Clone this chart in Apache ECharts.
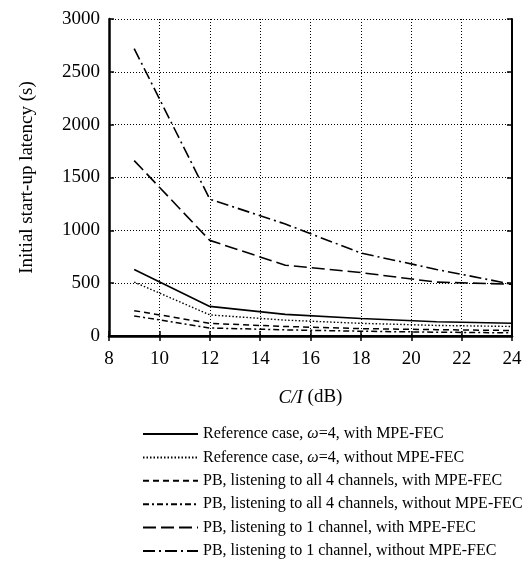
<!DOCTYPE html>
<html><head><meta charset="utf-8">
<script src="https://cdn.jsdelivr.net/npm/echarts@6/dist/echarts.min.js"></script>
<style>html,body{margin:0;padding:0;background:#fff}#c{width:531px;height:581px}</style>
</head><body><div id="c"></div>
<script>
const xValues = [9, 12, 15, 18, 21, 24];
const refWithFec = [630, 280, 205, 165, 135, 120];
const refWithoutFec = [510, 200, 150, 120, 100, 90];
const pb4WithFec = [240, 120, 90, 70, 60, 52];
const pb4WithoutFec = [190, 76, 58, 45, 36, 30];
const pb1WithFec = [1660, 905, 670, 600, 510, 490];
const pb1WithoutFec = [2720, 1295, 1060, 785, 630, 490];
const yTicks = [0, 500, 1000, 1500, 2000, 2500, 3000];
const seriesNames = [
  'Reference case, {i|ω}=4, with MPE-FEC',
  'Reference case, {i|ω}=4, without MPE-FEC',
  'PB, listening to all 4 channels, with MPE-FEC',
  'PB, listening to all 4 channels, without MPE-FEC',
  'PB, listening to 1 channel, with MPE-FEC',
  'PB, listening to 1 channel, without MPE-FEC'
];
const seriesData = [refWithFec, refWithoutFec, pb4WithFec, pb4WithoutFec, pb1WithFec, pb1WithoutFec];
const dashes = ['solid', [1.5, 2], [6, 4], [6, 3, 2, 3], [13, 5], [12, 4, 2, 4]];
const widths = [1.6, 1.4, 1.5, 1.5, 1.6, 1.6];
const font = 'Liberation Serif';
const chart = echarts.init(document.getElementById('c'));
chart.setOption({
  animation: false,
  grid: { left: 109, right: 19, top: 19, bottom: 245, show: false },
  legend: {
    orient: 'vertical', left: 137, top: 421, itemWidth: 55, itemHeight: 14, itemGap: 7.4,
    itemStyle: { color: 'transparent', borderWidth: 0 },
    textStyle: { fontFamily: font, fontSize: 16, color: '#000', rich: { i: { fontFamily: font, fontSize: 16, fontStyle: 'italic', color: '#000' } } },
    formatter: n => n
  },
  xAxis: [{
    type: 'value', min: 8, max: 24, interval: 2,
    name: '{i|C/I} (dB)', nameLocation: 'middle', nameGap: 52,
    nameTextStyle: { fontFamily: font, fontSize: 19, color: '#000', rich: { i: { fontFamily: font, fontSize: 19, fontStyle: 'italic', color: '#000' } } },
    axisLine: { lineStyle: { color: '#000', width: 2.5 } },
    axisTick: { inside: true, length: 5, lineStyle: { color: '#000', width: 1.5 } },
    axisLabel: { fontFamily: font, fontSize: 19, color: '#000', margin: 14 },
    splitLine: { show: true, lineStyle: { color: '#000', type: [1, 2], width: 1 } }
  }, {
    type: 'value', min: 8, max: 24, interval: 2, position: 'top',
    axisLine: { lineStyle: { color: '#000', width: 2 } },
    axisTick: { inside: true, length: 5, lineStyle: { color: '#000', width: 1.5 } },
    axisLabel: { show: false }, splitLine: { show: false }
  }],
  yAxis: [{
    type: 'value', min: yTicks[0], max: yTicks[yTicks.length - 1], interval: 500,
    name: 'Initial start-up latency (s)', nameLocation: 'middle', nameGap: 72,
    nameTextStyle: { fontFamily: font, fontSize: 19, color: '#000' },
    axisLine: { show: true, lineStyle: { color: '#000', width: 2.5 } },
    axisTick: { show: true, inside: true, length: 5, lineStyle: { color: '#000', width: 1.5 } },
    axisLabel: { fontFamily: font, fontSize: 19, color: '#000', margin: 9, formatter: v => String(v) },
    splitLine: { show: true, lineStyle: { color: '#000', type: [1, 2], width: 1 } }
  }, {
    type: 'value', min: yTicks[0], max: yTicks[yTicks.length - 1], interval: 500, position: 'right',
    axisLine: { show: true, lineStyle: { color: '#000', width: 2 } },
    axisTick: { show: true, inside: true, length: 5, lineStyle: { color: '#000', width: 1.5 } },
    axisLabel: { show: false }, splitLine: { show: false }
  }],
  series: seriesNames.map((name, k) => ({
    name, type: 'line', symbol: 'none',
    data: xValues.map((x, i) => [x, seriesData[k][i]]),
    lineStyle: { color: '#000', width: widths[k], type: dashes[k] },
    itemStyle: { color: '#000' }
  }))
});
</script></body></html>
